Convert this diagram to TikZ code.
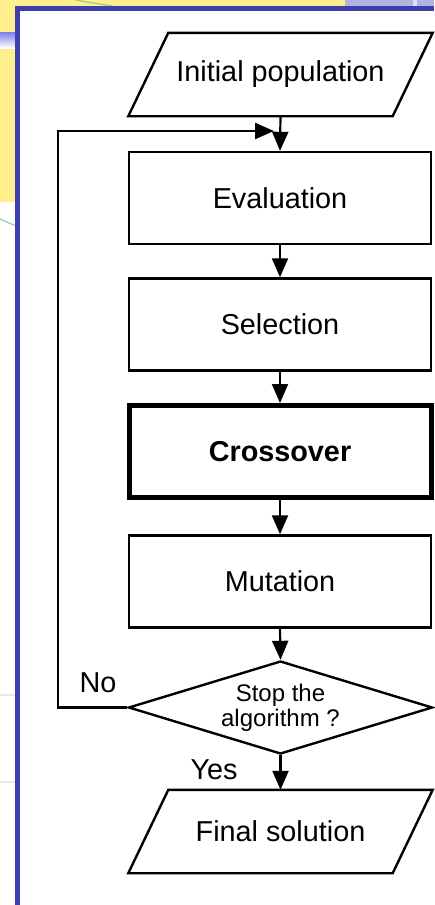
\documentclass[tikz,border=0pt]{standalone}
\usepackage{fontspec}
\setmainfont{Liberation Sans}
\usetikzlibrary{shapes.geometric,arrows.meta,calc}
\definecolor{frameblue}{RGB}{62,62,172}
\definecolor{bgyellow}{RGB}{255,238,140}
\definecolor{bglav}{RGB}{176,180,226}
\definecolor{bggreen}{RGB}{150,205,160}
\begin{document}
\begin{tikzpicture}[x=1pt,y=-1pt,
  every node/.style={font=\fontsize{28.8}{30}\selectfont},
  procbox/.style={draw, line width=2.4pt, minimum width=302pt, minimum height=92pt, inner sep=0pt},
  iobox/.style={minimum width=264pt, minimum height=83pt, inner sep=0pt},
  ioline/.style={line width=2.4pt, line join=miter},
  arr/.style={line width=2.2pt, -{Triangle[length=19pt,width=16pt]}},
  lbl/.style={inner sep=0pt}]
\useasboundingbox (0,0) rectangle (434,905);
% background outside the frame
\fill[white] (0,0) rectangle (434,905);
\fill[bgyellow] (0,0) rectangle (16,202);
\fill[bgyellow] (0,0) rectangle (345,7);
\fill[bglav] (345,0) rectangle (434,7);
\fill[white!60!bglav] (413,0) rectangle (417,7);
\shade[top color=bglav!70!blue, bottom color=white] (0,32) rectangle (16,48);
\draw[bggreen, line width=1.2pt] (0,219) -- (16,226);
\draw[bggreen, line width=1.2pt] (75,0) -- (112,6);
\draw[gray!18, line width=1.5pt] (0,695) -- (16,695);
\draw[gray!18, line width=1.5pt] (0,782) -- (16,782);
% frame
\fill[white] (17.5,8.5) rectangle (434,905);
\draw[frameblue, line width=4.5pt] (17.5,905) -- (17.5,8.5) -- (434,8.5);
% nodes
\node[iobox] (init) at (280.5,74.5) {Initial population};
\draw[ioline] ([xshift=20pt]init.north west) -- ([xshift=20pt]init.north east)
  -- ([xshift=-20pt]init.south east) -- ([xshift=-20pt]init.south west) -- cycle;
\node[procbox] (eval) at (280,198) {Evaluation};
\node[procbox] (sel) at (280,324.5) {Selection};
\node[procbox, line width=5pt, font=\fontsize{28.8}{30}\selectfont\bfseries] (cross) at (280,451.5) {Crossover};
\node[procbox] (mut) at (280,581.5) {Mutation};
\node[draw, diamond, aspect=3.28, minimum width=304pt, minimum height=93pt, inner sep=0pt,
  line width=2.4pt, align=center, font=\fontsize{24}{25}\selectfont] (stop) at (280.5,707.5) {Stop the\\algorithm ?};
\node[iobox] (final) at (280.5,831.5) {Final solution};
\draw[ioline] ([xshift=20pt]final.north west) -- ([xshift=20pt]final.north east)
  -- ([xshift=-20pt]final.south east) -- ([xshift=-20pt]final.south west) -- cycle;
% connectors
\draw[arr] (init.south) -- (eval.north);
\draw[arr] (eval.south) -- (sel.north);
\draw[arr] (sel.south) -- (cross.north);
\draw[arr] (cross.south) -- (mut.north);
\draw[arr] (mut.south) -- (stop.north);
\draw[arr] (stop.south) -- (final.north);
\coordinate (fb) at (274,131);
\draw[arr, line join=miter] (stop.west) -- ++(-69,0) |- (fb);
% labels
\node[lbl] (no) at (98,683) {No};
\node[lbl] (yes) at (214,770) {Yes};
\end{tikzpicture}
\end{document}
